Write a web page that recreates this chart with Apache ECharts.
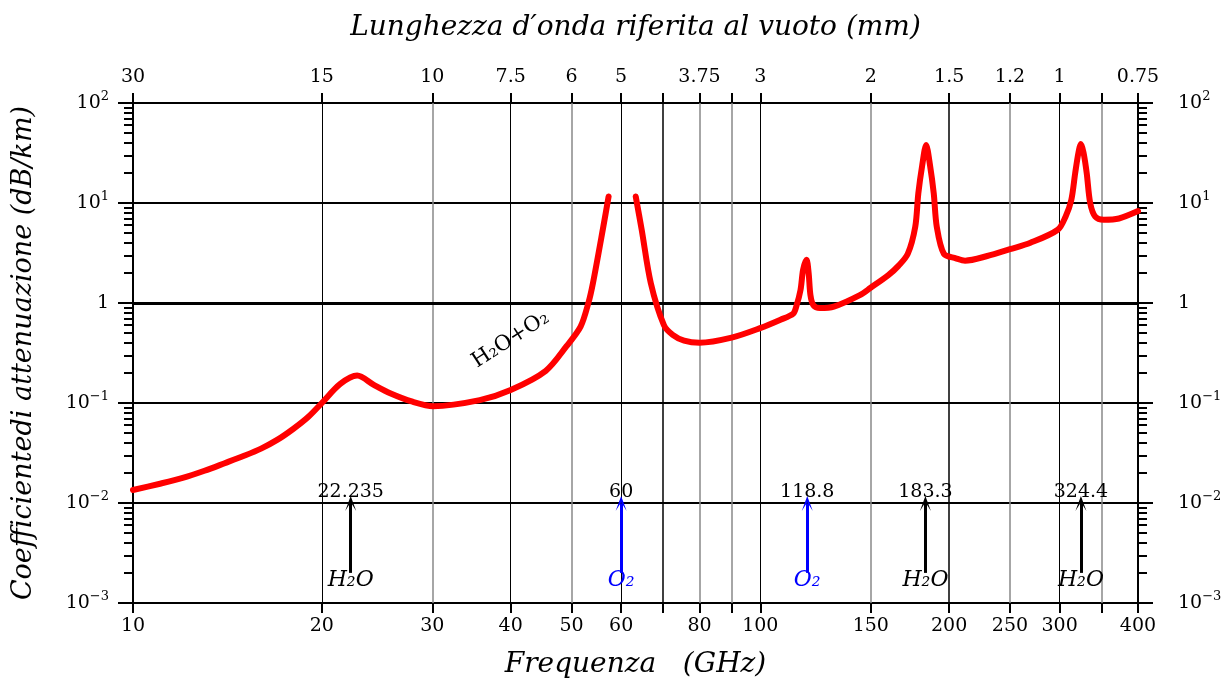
<!DOCTYPE html>
<html>
<head>
<meta charset="UTF-8">
<title>Attenuazione atmosferica</title>
<script src="https://cdn.jsdelivr.net/npm/echarts@6/dist/echarts.min.js"></script>
<style>
  html, body { margin: 0; padding: 0; background: #fff; }
  #container { width: 1223px; height: 684px; }
</style>
</head>
<body>
<div id="container"></div>
<script>
// frequenza (GHz) e attenuazione (dB/km), '-' = interruzione vicino a 60 GHz
var freq = [10, 11, 12, 13, 14, 15, 16, 17, 18, 19, 20, 21.4, 22.77, 24.2, 25.7, 27.9, 30.1, 35.7, 40, 45.5, 49.1, 51.7, 53.2, 54.1, 56.2, 57.3,
            60,
            63.3, 64.7, 66.9, 70.2, 72.5, 75.6, 80, 90, 99.9, 107.7, 112.8, 114.1, 115.9, 117, 118.5, 119.4, 120.2, 121.5, 124.5, 131, 144.1, 149.9,
            160, 166, 171.8, 176.6, 178.6, 181.2, 183.8, 186.4, 189, 191.1, 196.2, 205, 212, 230,
            250, 269.5, 298, 306.6, 313.1, 317.6, 321.5, 324.4, 327.5, 331.4, 335.6, 341.9, 352.8, 373, 400];
var atten = [0.0135, 0.0155, 0.0178, 0.021, 0.025, 0.0295, 0.035, 0.043, 0.055, 0.072, 0.1, 0.155, 0.188, 0.152, 0.125, 0.103, 0.093, 0.107, 0.135, 0.21, 0.37, 0.58, 1.0, 1.58, 5.8, 11.6,
             '-',
             11.6, 5.4, 1.58, 0.6, 0.48, 0.42, 0.4, 0.45, 0.56, 0.68, 0.78, 0.92, 1.35, 2.14, 2.7, 2.0, 1.2, 0.95, 0.89, 0.92, 1.2, 1.42,
             1.9, 2.35, 3.1, 5.8, 12.5, 24, 38, 24, 12.5, 5.8, 3.1, 2.8, 2.65, 2.95,
             3.45, 4.0, 5.4, 7.3, 10.7, 19.8, 32, 39, 32, 19.8, 10, 7.3, 6.8, 7.0, 8.3];

// assi
var freqTicks = [10, 20, 30, 40, 50, 60, 70, 80, 90, 100, 150, 200, 250, 300, 350, 400];
var freqLabels = [10, 20, 30, 40, 50, 60, 80, 100, 150, 200, 250, 300, 400];
var waveLabels = [30, 15, 10, 7.5, 6, 5, 3.75, 3, 2, 1.5, 1.2, 1, 0.75];   // mm, stesse posizioni di freqLabels
var decades = [0.001, 0.01, 0.1, 1, 10, 100];
var minorTicks = [];
decades.slice(0, 5).forEach(function (d) {
    for (var k = 2; k <= 9; k++) minorTicks.push(d * k);
});

// griglia verticale
var gridBlack = [20, 40, 60, 70, 100, 200, 300];
var gridGray = [30, 50, 80, 90, 150, 250, 350];

// righe di assorbimento
var lineFreq = [22.235, 60, 118.8, 183.3, 324.4];
var lineText = ['22.235', '60', '118.8', '183.3', '324.4'];
var lineMol = ['H₂O', 'O₂', 'O₂', 'H₂O', 'H₂O'];

var FONT = 'DejaVu Serif';

function pow10Label(v) {
    var e = Math.round(Math.log10(v));
    if (e === 0) return '1';
    return '10{sup|' + (e < 0 ? '−' + (-e) : e) + '}';
}
var supRich = { sup: { fontSize: 13, fontFamily: FONT, color: '#000', padding: [0, 0, 12, 0] } };

function molColor(m) { return m === 'O₂' ? '#0000ff' : '#000'; }

var curve = freq.map(function (f, i) { return [f, atten[i]]; });

var vLines = [];
gridBlack.forEach(function (f) {
    vLines.push({ xAxis: f, lineStyle: { color: '#000', type: 'solid', width: (f === 70 || f === 200) ? 1.5 : 1 } });
});
gridGray.forEach(function (f) {
    vLines.push({ xAxis: f, lineStyle: { color: '#888', type: 'solid', width: 1.5 } });
});
vLines.push({ yAxis: 1, lineStyle: { color: '#000', type: 'solid', width: 3 } });

var arrows = lineFreq.map(function (f, i) {
    var c = molColor(lineMol[i]);
    return [
        { coord: [f, 0.002], lineStyle: { color: c, width: 3, type: 'solid' }, itemStyle: { color: c } },
        { coord: [f, 0.0099] }
    ];
});

var numLabels = lineFreq.map(function (f, i) { return { value: [f, 0.0102], name: lineText[i] }; });
var molLabels = lineFreq.map(function (f, i) {
    return { value: [f, 0.0017], name: lineMol[i], label: { color: molColor(lineMol[i]) } };
});

function xAxisBase(pos) {
    return {
        type: 'log', logBase: 10, min: 10, max: 400, position: pos,
        axisLine: { show: true, lineStyle: { color: '#000', width: 2 } },
        axisTick: { show: true, customValues: freqTicks, length: 10, lineStyle: { color: '#000', width: 2 } },
        splitLine: { show: false },
        minorTick: { show: false },
        nameLocation: 'middle',
        nameTextStyle: { fontFamily: FONT, fontStyle: 'italic', fontSize: 28, color: '#000' }
    };
}
var xBottom = xAxisBase('bottom');
xBottom.axisLabel = { customValues: freqLabels, margin: 14, fontFamily: FONT, fontSize: 19, color: '#000' };
xBottom.name = 'Frequenza   (GHz)';
xBottom.nameGap = 48;
var xTop = xAxisBase('top');
xTop.axisLabel = {
    customValues: freqLabels, margin: 16, fontFamily: FONT, fontSize: 19, color: '#000',
    formatter: function (v) {
        var i = freqLabels.indexOf(Math.round(v * 1000) / 1000);
        return i >= 0 ? String(waveLabels[i]) : '';
    }
};
xTop.name = "Lunghezza d′onda riferita al vuoto (mm)";
xTop.nameGap = 61;

function yAxisMain(pos) {
    return {
        type: 'log', logBase: 10, min: 0.001, max: 100, position: pos,
        axisLine: { show: true, lineStyle: { color: '#000', width: 2 } },
        axisTick: { show: true, customValues: decades, length: 15, lineStyle: { color: '#000', width: 2 } },
        axisLabel: {
            customValues: decades, margin: pos === 'left' ? 24 : 40, fontFamily: FONT, fontSize: 19, color: '#000',
            formatter: pow10Label, rich: supRich
        },
        splitLine: { show: pos === 'left', lineStyle: { color: '#000', width: 2 } },
        minorTick: { show: false }
    };
}
function yAxisMinor(pos) {
    return {
        type: 'log', logBase: 10, min: 0.001, max: 100, position: pos,
        axisLine: { show: false },
        axisTick: { show: true, customValues: minorTicks, length: 9, lineStyle: { color: '#000', width: 2 } },
        axisLabel: { show: false },
        splitLine: { show: false },
        minorTick: { show: false }
    };
}
var yLeft = yAxisMain('left');
yLeft.name = 'Coefficientedi attenuazione (dB/km)';
yLeft.nameLocation = 'middle';
yLeft.nameGap = 96;
yLeft.nameTextStyle = { fontFamily: FONT, fontStyle: 'italic', fontSize: 27, color: '#000' };

var dom = document.getElementById('container');
var myChart = echarts.init(dom, null, { renderer: 'canvas' });
var option = {
    backgroundColor: '#ffffff',
    animation: false,
    grid: { left: 133, right: 85, top: 103, bottom: 81, containLabel: false, outerBoundsMode: 'none' },
    xAxis: [xBottom, xTop],
    yAxis: [yLeft, yAxisMinor('left'), yAxisMain('right'), yAxisMinor('right')],
    series: [
        {
            name: 'griglia', type: 'line', data: [], z: 1, silent: true,
            markLine: { silent: true, symbol: ['none', 'none'], label: { show: false }, data: vLines }
        },
        {
            name: 'H2O+O2', type: 'line', data: curve, z: 5,
            showSymbol: false, smooth: 0.3, connectNulls: false,
            lineStyle: { color: '#ff0000', width: 6, cap: 'round', join: 'round' }
        },
        {
            name: 'righe', type: 'line', data: [], z: 4, silent: true,
            markLine: {
                silent: true,
                symbol: ['none', 'path://M0,12 L5,0 L10,12 L5,5 Z'],
                symbolSize: [11, 15],
                label: { show: false },
                data: arrows
            }
        },
        {
            name: 'frequenze', type: 'scatter', data: numLabels, symbolSize: 0, z: 6,
            itemStyle: { opacity: 1 },
            label: { show: true, position: 'top', distance: 1, formatter: '{b}', fontFamily: FONT, fontSize: 19, color: '#000' }
        },
        {
            name: 'molecole', type: 'scatter', data: molLabels, symbolSize: 0, z: 6,
            itemStyle: { opacity: 1 },
            label: { show: true, position: 'inside', formatter: '{b}', fontFamily: FONT, fontStyle: 'italic', fontSize: 22 }
        },
        {
            name: 'etichetta', type: 'scatter', data: [{ value: [40, 0.43], name: 'H₂O+O₂' }], symbolSize: 0, z: 6,
            itemStyle: { opacity: 1 },
            label: { show: true, position: 'inside', rotate: 33, formatter: '{b}', fontFamily: FONT, fontSize: 21, color: '#000' }
        }
    ]
};
myChart.setOption(option, true);
</script>
</body>
</html>
